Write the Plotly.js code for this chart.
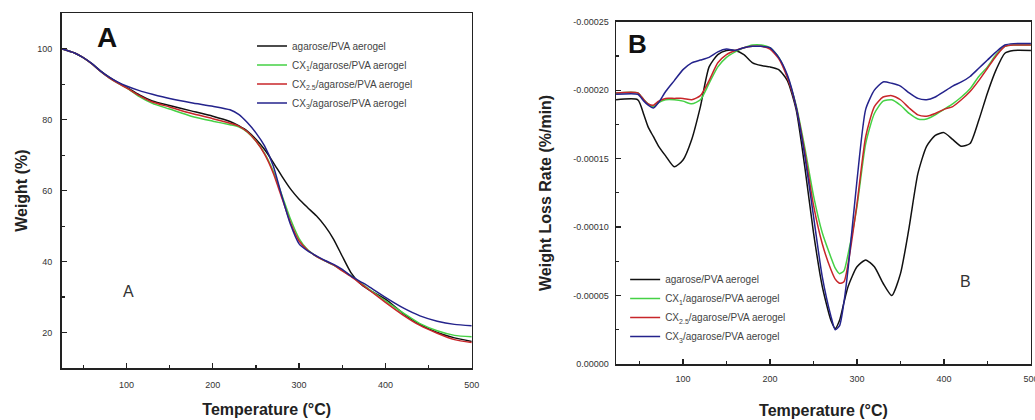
<!DOCTYPE html>
<html>
<head>
<meta charset="utf-8">
<script src="https://cdn.plot.ly/plotly-3.0.1.min.js"></script>
<style>html,body{margin:0;padding:0;background:#fff;}#chart{width:1035px;height:420px;}</style>
</head>
<body>
<div id="chart"></div>
<script>
// ---------- Panel A: TGA ----------
const tempA = [25,40,50,60,70,80,90,100,115,130,150,175,200,220,230,240,250,260,270,280,290,300,310,320,330,340,350,360,370,380,400,420,440,460,480,500];
const weightPVA  = [100,98.8,97.5,95.8,93.8,92,90.5,89.2,87,85.3,84,82.5,81,79.5,78.3,76.8,74.5,71.6,68,64.1,60.5,57.6,55.2,52.9,50,46.3,41.5,36.9,34,32.2,29.4,25.5,22.3,20,18.5,17.5];
const weightCX1  = [100,98.8,97.5,95.7,93.6,91.8,90.3,89,86.5,84.6,83,81,79.6,78.6,78,76.5,74,70.5,65.5,58.8,52,46.5,43.3,41.5,40.2,39,37.5,36,34.2,32.4,28.9,25.6,22.5,20.5,19.2,18.8];
const weightCX25 = [100,98.8,97.5,95.7,93.6,91.8,90.3,89,86.8,85,83.6,81.8,80.3,79,78.2,76.6,74,70.3,65,58,51,45.8,43.2,41.5,40.2,39,37.4,35.8,34,32.2,28.5,25,22,19.8,18,17.2];
const weightCX3  = [100,98.8,97.5,95.8,93.7,92,90.6,89.5,88.2,87.2,86,84.8,83.8,82.8,81.5,79.2,76.3,72.6,67,58.5,50.5,45,43,41.6,40.3,39.2,37.8,36,34.5,33.1,29.9,27,24.7,23.2,22.3,21.9];

// ---------- Panel B: DTG (weight loss rate, %/min) ----------
const tempB = [23,48,55,60,66,72,80,90,100,110,120,130,140,150,160,170,180,190,200,210,220,230,240,250,260,270,275,280,285,290,300,310,320,330,340,350,360,370,380,390,400,410,420,430,440,450,460,470,480,500];
const ratePVA  = [-19.3e-5,-19.3e-5,-18.2e-5,-17.3e-5,-16.6e-5,-15.9e-5,-15.2e-5,-14.4e-5,-14.9e-5,-16.4e-5,-18.8e-5,-21.7e-5,-22.6e-5,-22.9e-5,-22.9e-5,-22.6e-5,-22.0e-5,-21.8e-5,-21.7e-5,-21.5e-5,-20.7e-5,-18.6e-5,-14.4e-5,-9.6e-5,-5.7e-5,-3.2e-5,-2.6e-5,-3.2e-5,-4.5e-5,-5.7e-5,-7.1e-5,-7.6e-5,-7.1e-5,-5.9e-5,-5.0e-5,-6.6e-5,-10.0e-5,-13.9e-5,-15.9e-5,-16.7e-5,-16.9e-5,-16.4e-5,-15.9e-5,-16.1e-5,-17.8e-5,-19.8e-5,-21.5e-5,-22.7e-5,-22.9e-5,-22.9e-5];
const rateCX1  = [-19.8e-5,-19.8e-5,-19.3e-5,-19.0e-5,-18.8e-5,-19.1e-5,-19.3e-5,-19.3e-5,-19.2e-5,-19.0e-5,-19.3e-5,-20.5e-5,-21.7e-5,-22.4e-5,-22.8e-5,-23.1e-5,-23.3e-5,-23.3e-5,-23.1e-5,-22.4e-5,-21.0e-5,-18.9e-5,-15.8e-5,-12.3e-5,-9.6e-5,-7.8e-5,-7.0e-5,-6.6e-5,-6.8e-5,-8.1e-5,-11.5e-5,-16.1e-5,-18.3e-5,-19.2e-5,-19.3e-5,-18.9e-5,-18.3e-5,-17.9e-5,-17.9e-5,-18.2e-5,-18.6e-5,-19.0e-5,-19.5e-5,-20.1e-5,-21.0e-5,-21.7e-5,-22.6e-5,-23.2e-5,-23.3e-5,-23.3e-5];
const rateCX25 = [-19.8e-5,-19.8e-5,-19.3e-5,-19.0e-5,-18.9e-5,-19.2e-5,-19.4e-5,-19.4e-5,-19.4e-5,-19.3e-5,-19.6e-5,-20.7e-5,-22.0e-5,-22.6e-5,-22.9e-5,-23.1e-5,-23.2e-5,-23.2e-5,-23.0e-5,-22.3e-5,-20.9e-5,-18.8e-5,-15.5e-5,-11.6e-5,-8.8e-5,-6.9e-5,-6.2e-5,-5.9e-5,-6.0e-5,-7.4e-5,-11.7e-5,-16.6e-5,-18.8e-5,-19.5e-5,-19.6e-5,-19.3e-5,-18.7e-5,-18.2e-5,-18.1e-5,-18.3e-5,-18.6e-5,-18.8e-5,-19.3e-5,-19.9e-5,-20.7e-5,-21.6e-5,-22.5e-5,-23.2e-5,-23.3e-5,-23.3e-5];
const rateCX3  = [-19.7e-5,-19.7e-5,-19.2e-5,-18.9e-5,-18.7e-5,-19.1e-5,-19.9e-5,-20.7e-5,-21.5e-5,-22.0e-5,-22.2e-5,-22.4e-5,-22.8e-5,-23.0e-5,-22.9e-5,-23.1e-5,-23.2e-5,-23.2e-5,-23.1e-5,-22.4e-5,-21.1e-5,-18.8e-5,-15.2e-5,-10.8e-5,-6.4e-5,-3.5e-5,-2.5e-5,-2.8e-5,-4.5e-5,-7.1e-5,-13.4e-5,-18.6e-5,-20.0e-5,-20.6e-5,-20.5e-5,-20.3e-5,-19.8e-5,-19.4e-5,-19.3e-5,-19.5e-5,-19.9e-5,-20.3e-5,-20.6e-5,-21.0e-5,-21.6e-5,-22.2e-5,-22.8e-5,-23.3e-5,-23.4e-5,-23.4e-5];

const seriesNames = ["agarose/PVA aerogel","CX<sub>1</sub>/agarose/PVA aerogel","CX<sub>2.5</sub>/agarose/PVA aerogel","CX<sub>3</sub>/agarose/PVA aerogel"];
const yTickValsB = [-0.00025,-0.0002,-0.00015,-0.0001,-0.00005,0];
const yTickTextB = ["-0.00025","-0.00020","-0.00015","-0.00010","-0.00005","0.00000"];

const colors = ["#111111","#45d145","#c8262a","#24238c"];
const FONT = "Liberation Sans, Arial, sans-serif";

const seriesA = [weightPVA, weightCX1, weightCX25, weightCX3];
const seriesB = [ratePVA, rateCX1, rateCX25, rateCX3];

const traces = [];
seriesA.forEach((ys, i) => traces.push({
  x: tempA, y: ys, type: "scatter", mode: "lines", name: seriesNames[i],
  line: {color: colors[i], width: 1.5, shape: "spline", smoothing: 0.6},
  xaxis: "x", yaxis: "y", legend: "legend"
}));
seriesB.forEach((ys, i) => traces.push({
  x: tempB, y: ys, type: "scatter", mode: "lines", name: seriesNames[i],
  line: {color: colors[i], width: 1.5, shape: "spline", smoothing: 0.6},
  xaxis: "x2", yaxis: "y2", legend: "legend2"
}));

const axisCommon = {
  showline: true, linecolor: "#222", linewidth: 1.5, mirror: true,
  showgrid: false, zeroline: false, ticks: "inside", ticklen: 5, tickwidth: 1.2, tickcolor: "#222",
  tickfont: {family: FONT, size: 9, color: "#333"}, automargin: false, ticklabeloverflow: "allow"
};
const titleFont = {family: FONT, size: 16, weight: "bold", color: "#222"};

const layout = {
  width: 1035, height: 420,
  margin: {l: 0, r: 0, t: 0, b: 0},
  paper_bgcolor: "#fff", plot_bgcolor: "#fff",
  showlegend: true,
  xaxis: Object.assign({}, axisCommon, {
    domain: [0.0596, 0.4558], range: [25, 500], anchor: "y",
    tick0: 0, dtick: 100, ticklabelstandoff: 8,
    minor: {dtick: 50, tick0: 0, ticks: "inside", ticklen: 3, tickcolor: "#222"},
    title: {text: "Temperature (°C)", font: titleFont, standoff: 14}
  }),
  yaxis: Object.assign({}, axisCommon, {
    domain: [0.1238, 0.9683], range: [10, 110], anchor: "x",
    tick0: 0, dtick: 20, ticklabelstandoff: 6,
    minor: {dtick: 10, tick0: 0, ticks: "inside", ticklen: 3, tickcolor: "#222"},
    title: {text: "Weight (%)", font: titleFont, standoff: 6}
  }),
  xaxis2: Object.assign({}, axisCommon, {
    domain: [0.5952, 0.9961], range: [23, 500.01], anchor: "y2",
    tick0: 0, dtick: 100, ticklabelstandoff: 6,
    minor: {dtick: 50, tick0: 0, ticks: "inside", ticklen: 3, tickcolor: "#222"},
    title: {text: "Temperature (°C)", font: titleFont, standoff: 21}
  }),
  yaxis2: Object.assign({}, axisCommon, {
    domain: [0.1333, 0.9483], range: [0, -0.00025], anchor: "x2",
    tickmode: "array", tickvals: yTickValsB, ticktext: yTickTextB, ticklabelstandoff: 4,
    minor: {tickmode: "linear", dtick: 0.000025, tick0: 0, ticks: "inside", ticklen: 3, tickcolor: "#222"},
    title: {text: "Weight Loss Rate (%/min)", font: titleFont, standoff: 17}
  }),
  legend: {
    x: 0.2435, y: 0.925, xanchor: "left", yanchor: "top",
    bgcolor: "rgba(0,0,0,0)", borderwidth: 0,
    font: {family: FONT, size: 10, color: "#444"}, itemwidth: 30, tracegroupgap: 0
  },
  legend2: {
    x: 0.604, y: 0.369, xanchor: "left", yanchor: "top",
    bgcolor: "rgba(0,0,0,0)", borderwidth: 0,
    font: {family: FONT, size: 10, color: "#444"}, itemwidth: 30, tracegroupgap: 0
  },
  annotations: [
    {text: "A", x: 0.1034, y: 0.9119, xref: "paper", yref: "paper", xanchor: "center", yanchor: "middle", showarrow: false,
     font: {family: FONT, size: 28, weight: "bold", color: "#111"}},
    {text: "B", x: 0.6155, y: 0.8952, xref: "paper", yref: "paper", xanchor: "center", yanchor: "middle", showarrow: false,
     font: {family: FONT, size: 26, weight: "bold", color: "#111"}},
    {text: "A", x: 0.1237, y: 0.3048, xref: "paper", yref: "paper", xanchor: "center", yanchor: "middle", showarrow: false,
     font: {family: FONT, size: 16, color: "#333"}},
    {text: "B", x: 0.9333, y: 0.3286, xref: "paper", yref: "paper", xanchor: "center", yanchor: "middle", showarrow: false,
     font: {family: FONT, size: 16, color: "#333"}}
  ]
};

Plotly.newPlot("chart", traces, layout, {displayModeBar: false, staticPlot: true});
</script>
</body>
</html>
